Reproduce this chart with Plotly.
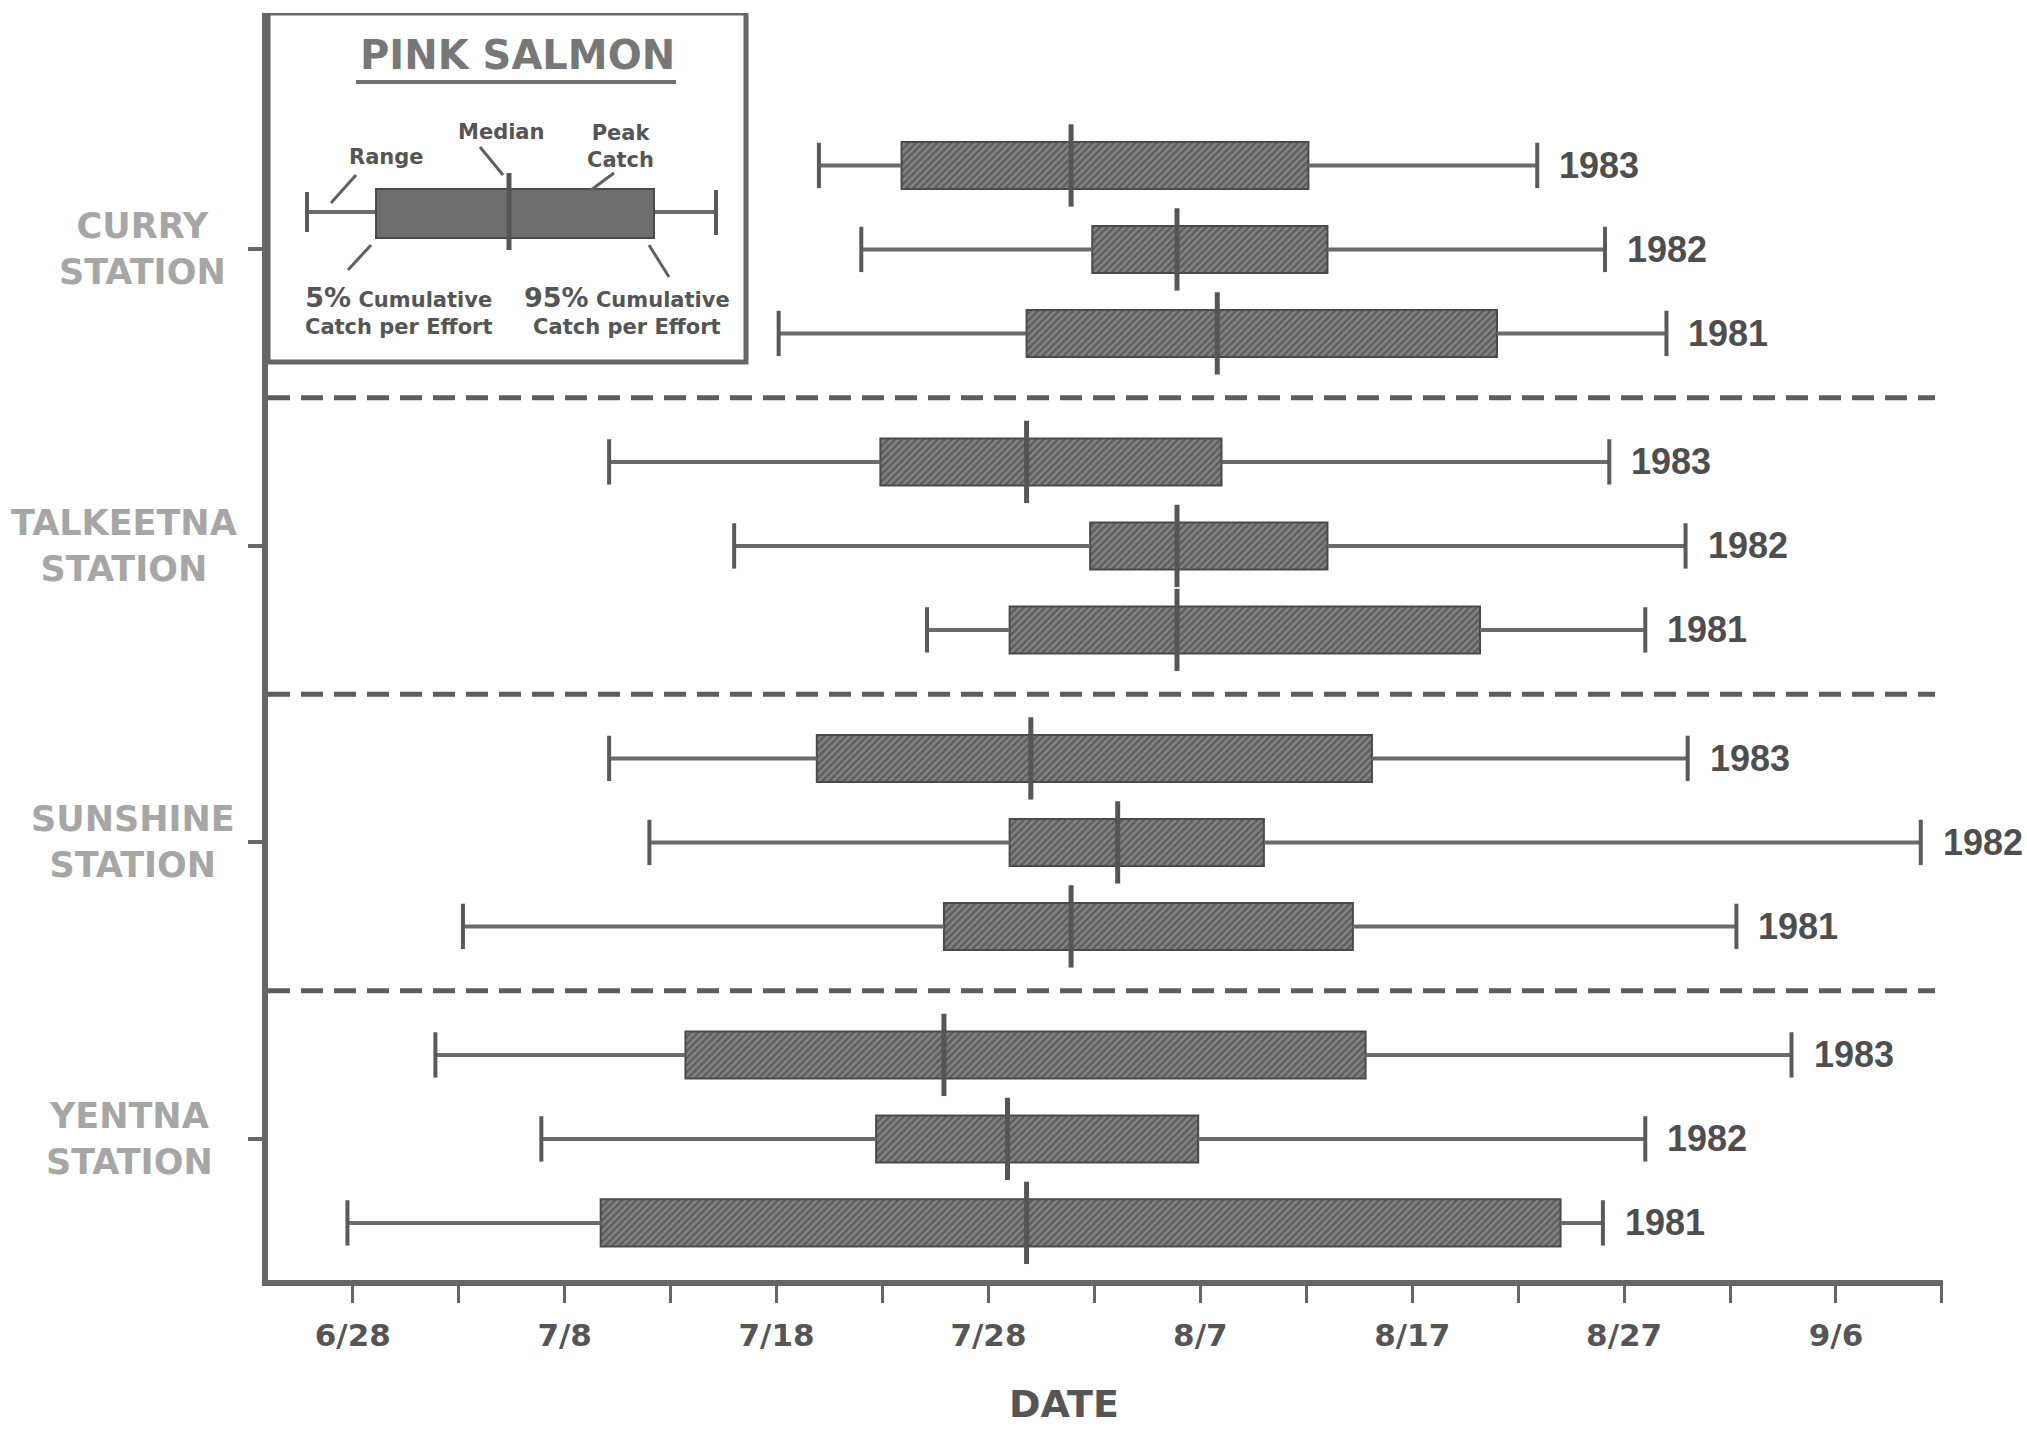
import plotly.graph_objects as go

# ---------------- data (days after 28 June) ----------------
stations = ["CURRY", "TALKEETNA", "SUNSHINE", "YENTNA"]
years = ["1983", "1982", "1981"]

# order: station by station, inside each station 1983, 1982, 1981
range_start = [22.0, 24.0, 20.1,
               12.1, 18.0, 27.1,
               12.1, 14.0, 5.2,
               3.9, 8.9, -0.25]
cpue_5pct = [25.9, 34.9, 31.8,
             24.9, 34.8, 31.0,
             21.9, 31.0, 27.9,
             15.7, 24.7, 11.7]
median_day = [33.9, 38.9, 40.8,
              31.8, 38.9, 38.9,
              32.0, 36.1, 33.9,
              27.9, 30.9, 31.8]
cpue_95pct = [45.1, 46.0, 54.0,
              41.0, 46.0, 53.2,
              48.1, 43.0, 47.2,
              47.8, 39.9, 57.0]
range_end = [55.9, 59.1, 62.0,
             59.3, 62.9, 61.0,
             63.0, 74.0, 65.3,
             67.9, 61.0, 59.0]

tick_days = [0, 10, 20, 30, 40, 50, 60, 70]
tick_labels = ["6/28", "7/8", "7/18", "7/28", "8/7", "8/17", "8/27", "9/6"]

# ---------------- layout constants ----------------
W, H = 2027, 1429
ML, MR, MT, MB = 268, 84, 13, 149
XR = [-4.0, 75.05]
YR = [12.27, -2.815]
GROUP = 3.53
ROW = 1.0
BOXH = 0.56
CAP = 0.27
MED = 0.49

PW = W - ML - MR
PH = H - MT - MB
PXD = PW / (XR[1] - XR[0])
PYU = PH / (YR[0] - YR[1])


def X(px):
    return XR[0] + (px - ML) / PXD


def Y(py):
    return YR[1] + (py - MT) / PYU


def XP(px):
    return (px - ML) / PW


def YP(py):
    return (H - MB - py) / PH


rows_y, row_year = [], []
for g, s in enumerate(stations):
    for k, yr in enumerate(years):
        rows_y.append(g * GROUP + (k - 1) * ROW)
        row_year.append(yr)

AX = "#666666"
DARK = "#4e4e4e"

fig = go.Figure()

# whiskers (range), outside the boxes
wx, wy = [], []
for lo, b5, b95, hi, y in zip(range_start, cpue_5pct, cpue_95pct, range_end, rows_y):
    wx += [lo, b5, None, b95, hi, None]
    wy += [y, y, None, y, y, None]
fig.add_trace(go.Scatter(x=wx, y=wy, mode="lines", line=dict(color="#6a6a6a", width=4),
                         hoverinfo="skip", showlegend=False))

# boxes (5% - 95% cumulative CPUE)
fig.add_trace(go.Bar(
    y=rows_y, base=cpue_5pct, x=[b - a for a, b in zip(cpue_5pct, cpue_95pct)],
    orientation="h", width=BOXH,
    marker=dict(color="#828282", line=dict(color="#4a4a4a", width=2),
                pattern=dict(shape="/", fgcolor="#3a3a3a", size=5, solidity=0.5,
                             fillmode="overlay")),
    showlegend=False, hoverinfo="skip"))

# caps
cx, cy = [], []
for lo, hi, y in zip(range_start, range_end, rows_y):
    cx += [lo, lo, None, hi, hi, None]
    cy += [y - CAP, y + CAP, None, y - CAP, y + CAP, None]
fig.add_trace(go.Scatter(x=cx, y=cy, mode="lines", line=dict(color="#5a5a5a", width=4),
                         hoverinfo="skip", showlegend=False))

# medians
mx, my = [], []
for m, y in zip(median_day, rows_y):
    mx += [m, m, None]
    my += [y - MED, y + MED, None]
fig.add_trace(go.Scatter(x=mx, y=my, mode="lines", line=dict(color="#555555", width=5),
                         hoverinfo="skip", showlegend=False))

annotations = []
# year labels
for hi, y, yr in zip(range_end, rows_y, row_year):
    annotations.append(dict(x=hi, y=y, xref="x", yref="y", text=yr, showarrow=False,
                            xanchor="left", yanchor="middle", xshift=20,
                            font=dict(family="Liberation Sans", size=36, color=DARK, weight="bold")))

# station labels
label_px = [142, 124, 133, 129]
for g, s in enumerate(stations):
    annotations.append(dict(x=XP(label_px[g]), y=g * GROUP, xref="paper", yref="y",
                            text=f"{s}<br>STATION", showarrow=False, align="center",
                            xanchor="center", yanchor="middle",
                            font=dict(family="DejaVu Sans", size=35, color="#a6a6a6", weight="bold")))

shapes = []
# dashed separators
for g in range(len(stations) - 1):
    yb = g * GROUP + GROUP / 2
    shapes.append(dict(type="line", xref="x", yref="y", x0=XR[0], x1=X(1935), y0=yb, y1=yb,
                       line=dict(color="#5c5c5c", width=5, dash="22px,11px")))

# legend inset box
LF = dict(family="DejaVu Sans", size=21, color="#555555", weight="bold")
shapes.append(dict(type="rect", xref="x", yref="y", x0=XR[0], x1=X(746), y0=YR[1], y1=Y(362),
                   line=dict(color=AX, width=5), fillcolor="rgba(0,0,0,0)"))
shapes.append(dict(type="line", xref="x", yref="y", x0=X(356), x1=X(676), y0=Y(82), y1=Y(82),
                   line=dict(color="#707070", width=4)))
shapes.append(dict(type="line", xref="x", yref="y", x0=X(307), x1=X(376), y0=Y(212), y1=Y(212),
                   line=dict(color="#6a6a6a", width=4)))
shapes.append(dict(type="line", xref="x", yref="y", x0=X(654), x1=X(716), y0=Y(212), y1=Y(212),
                   line=dict(color="#6a6a6a", width=4)))
shapes.append(dict(type="rect", xref="x", yref="y", x0=X(376), x1=X(654), y0=Y(189), y1=Y(238),
                   line=dict(color="#4a4a4a", width=2), fillcolor="#6e6e6e"))
for px, p0, p1 in [(307, 192, 232), (716, 190, 235)]:
    shapes.append(dict(type="line", xref="x", yref="y", x0=X(px), x1=X(px), y0=Y(p0), y1=Y(p1),
                       line=dict(color="#5a5a5a", width=4)))
shapes.append(dict(type="line", xref="x", yref="y", x0=X(509), x1=X(509), y0=Y(173), y1=Y(250),
                   line=dict(color="#555555", width=5)))
for (a, b, c, d) in [(331, 203, 356, 175), (480, 147, 503, 175), (591, 190, 614, 173),
                     (348, 270, 371, 245), (649, 245, 669, 277)]:
    shapes.append(dict(type="line", xref="x", yref="y", x0=X(a), y0=Y(b), x1=X(c), y1=Y(d),
                       line=dict(color="#606060", width=3)))

annotations.append(dict(x=X(517), y=Y(55), xref="x", yref="y", text="PINK SALMON", showarrow=False,
                        font=dict(family="DejaVu Sans", size=40, color="#777777", weight="bold")))
for txt, px, py in [("Range", 386, 157), ("Median", 501, 132), ("Peak<br>Catch", 620, 146),
                    ("<span style='font-size:27px'>5%</span> Cumulative<br>Catch per Effort", 398, 310),
                    ("<span style='font-size:27px'>95%</span> Cumulative<br>Catch per Effort", 627, 310)]:
    annotations.append(dict(x=X(px), y=Y(py), xref="x", yref="y", text=txt, showarrow=False,
                            align="center", font=LF))

# axis title
annotations.append(dict(x=XP(1064), y=YP(1404), xref="paper", yref="paper", text="DATE",
                        showarrow=False, xanchor="center", yanchor="middle",
                        font=dict(family="DejaVu Sans", size=38, color="#555555", weight="bold")))

all_ticks = list(range(0, 76, 5))
all_text = [tick_labels[tick_days.index(t)] if t in tick_days else "" for t in all_ticks]

fig.update_layout(
    width=W, height=H,
    margin=dict(l=ML, r=MR, t=MT, b=MB),
    paper_bgcolor="white", plot_bgcolor="white",
    showlegend=False,
    shapes=shapes, annotations=annotations,
    xaxis=dict(range=XR, showgrid=False, zeroline=False, showline=True, linecolor=AX, linewidth=6,
               ticks="outside", ticklen=17, tickwidth=3, tickcolor=AX,
               tickvals=all_ticks, ticktext=all_text, ticklabelstandoff=6,
               tickfont=dict(family="DejaVu Sans", size=31, color="#555555", weight="bold")),
    yaxis=dict(range=YR, showgrid=False, zeroline=False, showline=True, linecolor=AX, linewidth=6,
               ticks="outside", ticklen=14, tickwidth=4, tickcolor=AX,
               tickvals=[g * GROUP for g in range(len(stations))],
               showticklabels=False),
)

fig.write_html("out.html", config={"displayModeBar": False},
               post_script="document.body.style.margin='0';")
